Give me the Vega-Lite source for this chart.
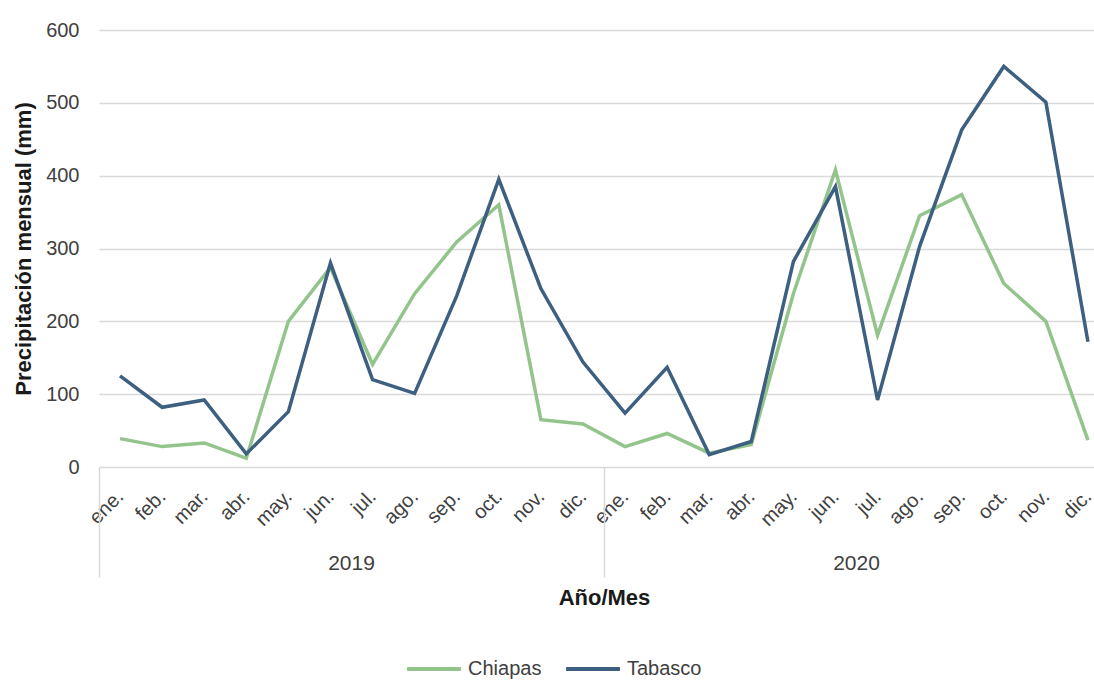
{
  "$schema": "https://vega.github.io/schema/vega-lite/v6.json",
  "width": 1010,
  "height": 437,
  "autosize": {"type": "none"},
  "padding": {"left": 99, "top": 30, "right": 0, "bottom": 213},
  "background": "white",
  "config": {
    "view": {"stroke": null},
    "font": "Liberation Sans, Arial, sans-serif"
  },
  "data": {
    "values": [
      {"periodo": "ene. 2019", "anio": "2019", "estado": "Chiapas", "valor": 39},
      {"periodo": "feb. 2019", "anio": "2019", "estado": "Chiapas", "valor": 28},
      {"periodo": "mar. 2019", "anio": "2019", "estado": "Chiapas", "valor": 33},
      {"periodo": "abr. 2019", "anio": "2019", "estado": "Chiapas", "valor": 12},
      {"periodo": "may. 2019", "anio": "2019", "estado": "Chiapas", "valor": 200},
      {"periodo": "jun. 2019", "anio": "2019", "estado": "Chiapas", "valor": 274},
      {"periodo": "jul. 2019", "anio": "2019", "estado": "Chiapas", "valor": 141},
      {"periodo": "ago. 2019", "anio": "2019", "estado": "Chiapas", "valor": 238},
      {"periodo": "sep. 2019", "anio": "2019", "estado": "Chiapas", "valor": 309},
      {"periodo": "oct. 2019", "anio": "2019", "estado": "Chiapas", "valor": 360},
      {"periodo": "nov. 2019", "anio": "2019", "estado": "Chiapas", "valor": 65},
      {"periodo": "dic. 2019", "anio": "2019", "estado": "Chiapas", "valor": 59},
      {"periodo": "ene. 2020", "anio": "2020", "estado": "Chiapas", "valor": 28},
      {"periodo": "feb. 2020", "anio": "2020", "estado": "Chiapas", "valor": 46},
      {"periodo": "mar. 2020", "anio": "2020", "estado": "Chiapas", "valor": 19},
      {"periodo": "abr. 2020", "anio": "2020", "estado": "Chiapas", "valor": 31},
      {"periodo": "may. 2020", "anio": "2020", "estado": "Chiapas", "valor": 238},
      {"periodo": "jun. 2020", "anio": "2020", "estado": "Chiapas", "valor": 408},
      {"periodo": "jul. 2020", "anio": "2020", "estado": "Chiapas", "valor": 181},
      {"periodo": "ago. 2020", "anio": "2020", "estado": "Chiapas", "valor": 345},
      {"periodo": "sep. 2020", "anio": "2020", "estado": "Chiapas", "valor": 374},
      {"periodo": "oct. 2020", "anio": "2020", "estado": "Chiapas", "valor": 252},
      {"periodo": "nov. 2020", "anio": "2020", "estado": "Chiapas", "valor": 200},
      {"periodo": "dic. 2020", "anio": "2020", "estado": "Chiapas", "valor": 37},
      {"periodo": "ene. 2019", "anio": "2019", "estado": "Tabasco", "valor": 125},
      {"periodo": "feb. 2019", "anio": "2019", "estado": "Tabasco", "valor": 82},
      {"periodo": "mar. 2019", "anio": "2019", "estado": "Tabasco", "valor": 92},
      {"periodo": "abr. 2019", "anio": "2019", "estado": "Tabasco", "valor": 18},
      {"periodo": "may. 2019", "anio": "2019", "estado": "Tabasco", "valor": 76},
      {"periodo": "jun. 2019", "anio": "2019", "estado": "Tabasco", "valor": 280},
      {"periodo": "jul. 2019", "anio": "2019", "estado": "Tabasco", "valor": 120},
      {"periodo": "ago. 2019", "anio": "2019", "estado": "Tabasco", "valor": 101},
      {"periodo": "sep. 2019", "anio": "2019", "estado": "Tabasco", "valor": 235},
      {"periodo": "oct. 2019", "anio": "2019", "estado": "Tabasco", "valor": 395},
      {"periodo": "nov. 2019", "anio": "2019", "estado": "Tabasco", "valor": 245},
      {"periodo": "dic. 2019", "anio": "2019", "estado": "Tabasco", "valor": 144},
      {"periodo": "ene. 2020", "anio": "2020", "estado": "Tabasco", "valor": 74},
      {"periodo": "feb. 2020", "anio": "2020", "estado": "Tabasco", "valor": 137},
      {"periodo": "mar. 2020", "anio": "2020", "estado": "Tabasco", "valor": 17},
      {"periodo": "abr. 2020", "anio": "2020", "estado": "Tabasco", "valor": 35},
      {"periodo": "may. 2020", "anio": "2020", "estado": "Tabasco", "valor": 282},
      {"periodo": "jun. 2020", "anio": "2020", "estado": "Tabasco", "valor": 385},
      {"periodo": "jul. 2020", "anio": "2020", "estado": "Tabasco", "valor": 92},
      {"periodo": "ago. 2020", "anio": "2020", "estado": "Tabasco", "valor": 303},
      {"periodo": "sep. 2020", "anio": "2020", "estado": "Tabasco", "valor": 463},
      {"periodo": "oct. 2020", "anio": "2020", "estado": "Tabasco", "valor": 550},
      {"periodo": "nov. 2020", "anio": "2020", "estado": "Tabasco", "valor": 501},
      {"periodo": "dic. 2020", "anio": "2020", "estado": "Tabasco", "valor": 172}
    ]
  },
  "layer": [
    {
      "mark": {"type": "line", "strokeWidth": 3.5, "strokeJoin": "miter"},
      "encoding": {
        "x": {
          "field": "periodo",
          "type": "nominal",
          "sort": null,
          "scale": {"type": "point", "padding": 0.5},
          "axis": {
            "orient": "bottom",
            "title": null,
            "domain": false,
            "ticks": false,
            "grid": false,
            "labelAngle": -45,
            "labelAlign": "right",
            "labelBaseline": "middle",
            "labelPadding": 26,
            "labelFontSize": 20,
            "labelColor": "#404040",
            "labelExpr": "split(datum.label, ' ')[0]"
          }
        },
        "y": {
          "field": "valor",
          "type": "quantitative",
          "scale": {"domain": [0, 600]},
          "axis": {
            "values": [0, 100, 200, 300, 400, 500, 600],
            "title": "Precipitación mensual (mm)",
            "titleFontSize": 22,
            "titleFontWeight": "bold",
            "titleColor": "#1a1a1a",
            "titlePadding": 10,
            "labelFontSize": 20,
            "labelColor": "#404040",
            "labelPadding": 20,
            "ticks": false,
            "domain": false,
            "gridColor": "#d9d9d9",
            "gridWidth": 1.5
          }
        },
        "color": {
          "field": "estado",
          "type": "nominal",
          "scale": {"domain": ["Chiapas", "Tabasco"], "range": ["#93c48b", "#3d5f80"]},
          "legend": {
            "orient": "none",
            "legendX": 306,
            "legendY": 610,
            "direction": "horizontal",
            "title": null,
            "symbolType": "stroke",
            "symbolSize": 2900,
            "symbolStrokeWidth": 4,
            "labelFontSize": 20,
            "labelColor": "#404040",
            "labelOffset": 5,
            "columnPadding": 16
          }
        }
      }
    },
    {
      "mark": {"type": "point", "opacity": 0},
      "encoding": {
        "x": {
          "field": "anio",
          "type": "nominal",
          "scale": {"type": "band", "paddingInner": 0, "paddingOuter": 0},
          "axis": {
            "orient": "bottom",
            "title": "Año/Mes",
            "titleFontSize": 22,
            "titleFontWeight": "bold",
            "titleColor": "#1a1a1a",
            "titlePadding": 10,
            "domain": false,
            "grid": false,
            "ticks": true,
            "bandPosition": 0,
            "tickSize": 110,
            "tickColor": "#d9d9d9",
            "tickWidth": 1.5,
            "labelAngle": 0,
            "labelPadding": -14,
            "labelFontSize": 21,
            "labelColor": "#404040",
            "labelBaseline": "middle"
          }
        }
      }
    }
  ],
  "resolve": {"scale": {"x": "independent"}, "axis": {"x": "independent"}}
}
